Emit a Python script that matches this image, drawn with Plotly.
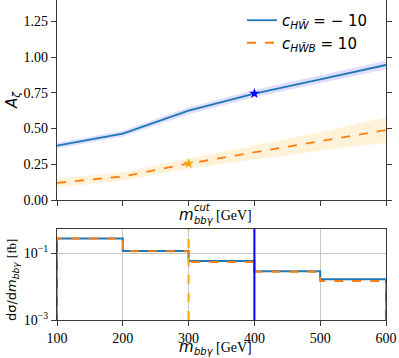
import plotly.graph_objects as go

# ---------------- data ----------------
x_cut = [100, 200, 300, 400, 500, 600]
az_hw = [0.38, 0.465, 0.625, 0.745, 0.845, 0.945]
az_hw_err = [0.02, 0.02, 0.025, 0.025, 0.028, 0.03]
az_hwb = [0.12, 0.165, 0.255, 0.335, 0.41, 0.49]
az_hwb_err = [0.03, 0.03, 0.035, 0.05, 0.065, 0.09]

star_hw = (400, 0.745)
star_hwb = (300, 0.255)

bin_edges = [100, 200, 300, 400, 500, 600]
xs_hw = [0.28, 0.117, 0.059, 0.029, 0.0166]
xs_hwb = [0.28, 0.115, 0.055, 0.028, 0.0148]

cut_hw = 400
cut_hwb = 300

y_ticks_top = [0.0, 0.25, 0.5, 0.75, 1.0, 1.25]
x_ticks = [100, 200, 300, 400, 500, 600]

# ---------------- figure ----------------
W, H = 399, 358
L, R, T, B = 57, 13, 0, 38
PW, PH = W - L - R, H - T - B

def px(xp):
    return (xp - L) / PW

def py(yp):
    return (PH + T - yp) / PH

BLUE = "#1f77b4"
ORANGE = "#ff7f0e"
SERIF = "Liberation Serif"
SANS = "DejaVu Sans"

fig = go.Figure()

def band(xs, ys, errs, color, yref):
    up = [y + e for y, e in zip(ys, errs)]
    lo = [y - e for y, e in zip(ys, errs)]
    return go.Scatter(x=xs + xs[::-1], y=up + lo[::-1], fill="toself",
                      fillcolor=color, line=dict(width=0), mode="lines",
                      hoverinfo="skip", showlegend=False, xaxis="x", yaxis=yref)

fig.add_trace(band(x_cut, az_hw, az_hw_err, "rgba(0,0,255,0.13)", "y"))
fig.add_trace(band(x_cut, az_hwb, az_hwb_err, "rgba(255,165,0,0.15)", "y"))

fig.add_trace(go.Scatter(x=x_cut, y=az_hw, mode="lines", line=dict(color=BLUE, width=1.8),
                         name="<i>c</i><sub><i>HW̃</i></sub> = − 10", xaxis="x", yaxis="y"))
fig.add_trace(go.Scatter(x=x_cut, y=az_hwb, mode="lines",
                         line=dict(color=ORANGE, width=1.8, dash="dash"),
                         name="<i>c</i><sub><i>HW̃B</i></sub> = 10", xaxis="x", yaxis="y"))

fig.add_trace(go.Scatter(x=[star_hw[0]], y=[star_hw[1]], mode="markers",
                         marker=dict(symbol="star", size=8, color="blue"),
                         showlegend=False, xaxis="x", yaxis="y"))
fig.add_trace(go.Scatter(x=[star_hwb[0]], y=[star_hwb[1]], mode="markers",
                         marker=dict(symbol="star", size=8, color="orange"),
                         showlegend=False, xaxis="x", yaxis="y"))

# bottom panel: step histograms
def steps(vals):
    xs = [bin_edges[0]] + bin_edges + [bin_edges[-1]]
    ys = [1e-5] + vals + [vals[-1], 1e-5]
    return xs, ys

sx, sy = steps(xs_hw)
fig.add_trace(go.Scatter(x=sx, y=sy, mode="lines", line=dict(color=BLUE, width=2, shape="hv"),
                         showlegend=False, xaxis="x2", yaxis="y2"))
sx, sy = steps(xs_hwb)
fig.add_trace(go.Scatter(x=sx, y=sy, mode="lines",
                         line=dict(color=ORANGE, width=2, shape="hv", dash="dash"),
                         showlegend=False, xaxis="x2", yaxis="y2"))

# vertical cut markers
fig.add_shape(type="line", xref="x2", yref="y2 domain", x0=cut_hwb, x1=cut_hwb, y0=0, y1=1,
              line=dict(color="orange", width=2, dash="dash"))
fig.add_shape(type="line", xref="x2", yref="y2 domain", x0=cut_hw, x1=cut_hw, y0=0, y1=1,
              line=dict(color="blue", width=2))

axis_line = "#3a3a3a"
top_dom = [py(200), 1.0]
bot_dom = [0.0, py(229)]

fig.update_layout(
    width=W, height=H,
    margin=dict(l=L, r=R, t=T, b=B),
    paper_bgcolor="white", plot_bgcolor="white",
    showlegend=True,
    legend=dict(x=px(242), y=py(4), xanchor="left", yanchor="top",
                bgcolor="rgba(255,255,255,0)", font=dict(family=SANS, size=15, color="black"),
                tracegroupgap=0, itemwidth=30),
    xaxis=dict(domain=[0, 1], anchor="y", range=[100, 600], tickvals=x_ticks,
               showticklabels=False, ticks="outside", ticklen=5, tickcolor=axis_line,
               showline=True, linecolor=axis_line, linewidth=1.2, mirror=False,
               showgrid=False, zeroline=False),
    yaxis=dict(domain=top_dom, anchor="x", range=[0, 1.4], tickvals=y_ticks_top,
               tickformat=".2f", ticks="outside", ticklen=5, tickcolor=axis_line,
               showline=True, linecolor=axis_line, linewidth=1.2, mirror="ticks",
               showgrid=False, zeroline=False,
               tickfont=dict(family=SERIF, size=14, color="black")),
    xaxis2=dict(domain=[0, 1], anchor="y2", range=[100, 600], tickvals=x_ticks,
                ticks="outside", ticklen=5, tickcolor=axis_line,
                showline=True, linecolor=axis_line, linewidth=1.2, mirror=True,
                showgrid=True, gridcolor="#c8c8c8", gridwidth=1, zeroline=False,
                tickfont=dict(family=SERIF, size=14, color="black")),
    yaxis2=dict(domain=bot_dom, anchor="x2", type="log", range=[-3, -0.27],
                tickvals=[1e-3, 1e-1], ticktext=["10<sup>−3</sup>", "10<sup>−1</sup>"],
                ticks="outside", ticklen=5, tickcolor=axis_line,
                showline=True, linecolor=axis_line, linewidth=1.2, mirror=True,
                showgrid=True, gridcolor="#c8c8c8", gridwidth=1, zeroline=False,
                tickfont=dict(family=SERIF, size=14, color="black")),
)

# axis titles as annotations
def ann(text, x, y, size=14, family=SANS, xanchor="center", angle=0):
    fig.add_annotation(text=text, x=px(x), y=py(y), xref="paper", yref="paper",
                       showarrow=False, xanchor=xanchor, yanchor="middle",
                       textangle=angle, font=dict(family=family, size=size, color="black"))

# top x title
ann("<i>m</i>", 186.5, 214.5, size=15)
ann("<i>cut</i>", 192, 207.5, size=10, xanchor="left")
ann("<i>bbγ</i>", 192, 220, size=10, xanchor="left")
ann("[GeV]", 214, 215, size=14, family=SERIF, xanchor="left")

# bottom x title
ann("<i>m</i>", 186.5, 346.5, size=15)
ann("<i>bbγ</i>", 192, 351, size=10, xanchor="left")
ann("[GeV]", 214, 347.5, size=14, family=SERIF, xanchor="left")

# y titles
ann("<i>A</i><sub><i>ζ</i></sub>", 12, 100, size=15, angle=-90)
ann("dσ/d<i>m</i><sub><i>bbγ</i></sub> <span style='font-family:Liberation Serif'>[fb]</span>",
    12, 280, size=13, angle=-90)

fig.write_html("out.html", config={"displayModeBar": False},
               post_script="document.body.style.margin='0';document.body.style.padding='0';")
